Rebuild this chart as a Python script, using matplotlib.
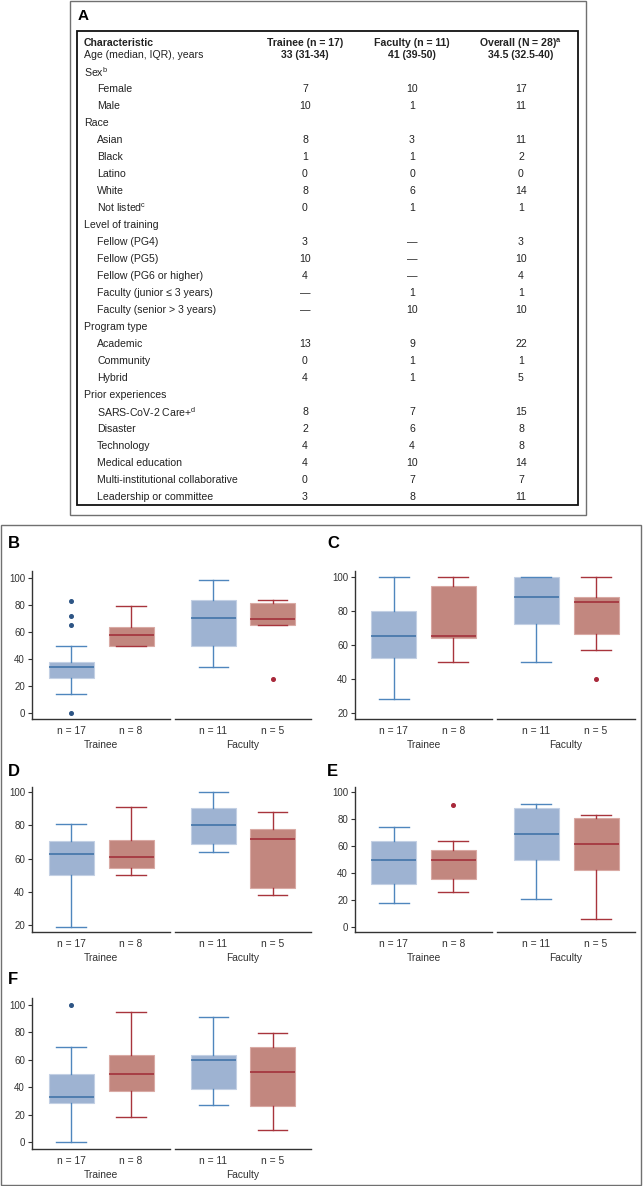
import matplotlib
matplotlib.use("Agg")
import matplotlib.pyplot as plt
from matplotlib.patches import Rectangle

plt.rcParams["font.family"] = ["Liberation Sans", "DejaVu Sans"]
plt.rcParams["mathtext.default"] = "regular"

# ---- table (panel A) ----
col_headers = ["Trainee (n = 17)", "Faculty (n = 11)", "Overall (N = 28)$^a$"]
age_values = ["33 (31-34)", "41 (39-50)", "34.5 (32.5-40)"]

row_labels = [
    "Sex$^b$", "Female", "Male",
    "Race", "Asian", "Black", "Latino", "White", "Not listed$^c$",
    "Level of training", "Fellow (PG4)", "Fellow (PG5)", "Fellow (PG6 or higher)",
    "Faculty (junior \u2264 3 years)", "Faculty (senior > 3 years)",
    "Program type", "Academic", "Community", "Hybrid",
    "Prior experiences", "SARS-CoV-2 Care+$^d$", "Disaster", "Technology",
    "Medical education", "Multi-institutional collaborative", "Leadership or committee",
]
D = "\u2014"
trainee_n = [None, 7, 10, None, 8, 1, 0, 8, 0, None, 3, 10, 4, D, D,
             None, 13, 0, 4, None, 8, 2, 4, 4, 0, 3]
faculty_n = [None, 10, 1, None, 3, 1, 0, 6, 1, None, D, D, D, 1, 10,
             None, 9, 1, 1, None, 7, 6, 4, 10, 7, 8]
overall_n = [None, 17, 11, None, 11, 2, 0, 14, 1, None, 3, 10, 4, 1, 10,
             None, 22, 1, 5, None, 15, 8, 8, 14, 7, 11]

# ---- box plots (panels B-F) ----
panel_names = ["B", "C", "D", "E", "F"]
group_names = ["Trainee", "Faculty"]
n_labels = [["n = 17", "n = 8"], ["n = 11", "n = 5"]]
# box order per panel: trainee blue, trainee red, faculty blue, faculty red
whislo = [[14, 50, 34, 65], [28, 50, 50, 57], [19, 50, 64, 38],
          [17.5, 26, 21, 6], [0, 18, 27, 9]]
q1 = [[26, 50, 50, 65], [52.5, 64, 72.5, 66.5], [50, 54, 69, 42],
      [32, 35.5, 50, 42.5], [28.5, 37, 39, 26]]
med = [[34, 58, 70.5, 69.5], [65, 65.5, 88, 85], [63, 61, 80, 72],
       [50, 50, 69, 61.5], [33, 50, 60, 51]]
q3 = [[38, 63.5, 83.5, 81.5], [80, 94.5, 100, 88.5], [70.5, 71, 90.5, 78],
      [64, 57, 88.5, 80.5], [50, 63.5, 63.5, 69.5]]
whishi = [[50, 79, 98.5, 84], [100, 100, 100, 100], [81, 91, 100, 88],
          [74, 63.5, 91, 83], [69, 95, 91, 79.5]]
fliers = [[[0, 65, 72, 83], [], [], [25]],
          [[], [], [], [40]],
          [[], [], [], []],
          [[], [90], [], []],
          [[100], [], [], []]]
y_ticks = [[0, 20, 40, 60, 80, 100], [20, 40, 60, 80, 100], [20, 40, 60, 80, 100],
           [0, 20, 40, 60, 80, 100], [0, 20, 40, 60, 80, 100]]
y_limits = [(-4.4, 105.2), (16.5, 103.5), (15.8, 103), (-3.7, 103.7), (-5.1, 105.1)]

W, H = 643, 1186
fig = plt.figure(figsize=(W / 100, H / 100), dpi=100)


def fx(x):
    return x / W


def fy(y):
    return 1 - y / H


def frame(x0, y0, x1, y1, color, lw):
    fig.add_artist(Rectangle((fx(x0), fy(y1)), fx(x1) - fx(x0), fy(y0) - fy(y1),
                             transform=fig.transFigure, fill=False,
                             edgecolor=color, linewidth=lw))


def axes_px(x0, y0, x1, y1):
    return fig.add_axes([fx(x0), fy(y1), fx(x1) - fx(x0), fy(y0) - fy(y1)])


# ---- panel A ----
frame(70, 1, 586, 515, "#707070", 1.0)
frame(77, 31, 578, 505, "#111111", 1.3)
fig.text(fx(78), fy(16), "A", fontsize=11, fontweight="bold", ha="left", va="center")

txt = "#222222"
fs = 7.6
col_x = [305, 412, 521]
fig.text(fx(84), fy(43.5), "Characteristic", fontsize=fs, fontweight="bold",
         color=txt, ha="left", va="center")
fig.text(fx(84), fy(55.5), "Age (median, IQR), years", fontsize=fs,
         color=txt, ha="left", va="center")
for cx, head, age in zip(col_x, col_headers, age_values):
    fig.text(fx(cx), fy(43.5), head, fontsize=fs, fontweight="bold",
             color=txt, ha="center", va="center")
    fig.text(fx(cx), fy(55.5), age, fontsize=fs, fontweight="bold",
             color=txt, ha="center", va="center")

for i, label in enumerate(row_labels):
    y = 72 + i * 17.0
    is_group = trainee_n[i] is None
    fig.text(fx(84 if is_group else 97), fy(y), label, fontsize=fs,
             color=txt, ha="left", va="center")
    if not is_group:
        for cx, v in zip(col_x, [trainee_n[i], faculty_n[i], overall_n[i]]):
            fig.text(fx(cx), fy(y), str(v), fontsize=fs, color=txt,
                     ha="center", va="center")

# ---- panels B-F ----
frame(1, 525, 641, 1185, "#707070", 1.0)

fill_cols = ["#9eb3d2", "#c2877f"]
edge_cols = ["#c3d0e4", "#d9aaa4"]
line_cols = ["#4f86bd", "#a8343c"]
med_cols = ["#3a6fa5", "#a02a35"]
flier_cols = ["#2d5585", "#a8283a"]

col_pos = [(32, 170, 175, 311), (355, 492, 497, 635)]
row_pos = [(571, 719), (787, 932), (998, 1149)]
label_pos = [(8, 543), (327, 543), (8, 772), (327, 772), (8, 979)]

for p, name in enumerate(panel_names):
    c = p % 2
    r = p // 2
    xa, xb, xc, xd = col_pos[c]
    ya, yb = row_pos[r]
    fig.text(fx(label_pos[p][0]), fy(label_pos[p][1]), name, fontsize=12,
             fontweight="bold", ha="left", va="center")
    for g, (x0, x1) in enumerate([(xa, xb), (xc, xd)]):
        ax = axes_px(x0, ya, x1, yb)
        stats = []
        for k in range(2):
            j = g * 2 + k
            stats.append(dict(whislo=whislo[p][j], q1=q1[p][j], med=med[p][j],
                              q3=q3[p][j], whishi=whishi[p][j], fliers=fliers[p][j]))
        art = ax.bxp(stats, positions=[0, 1], widths=0.75, capwidths=0.5,
                     patch_artist=True, showfliers=True)
        for k in range(2):
            art["boxes"][k].set_facecolor(fill_cols[k])
            art["boxes"][k].set_edgecolor(edge_cols[k])
            art["boxes"][k].set_linewidth(0.8)
            art["medians"][k].set_color(med_cols[k])
            art["medians"][k].set_linewidth(1.1)
            for w in art["whiskers"][2 * k:2 * k + 2] + art["caps"][2 * k:2 * k + 2]:
                w.set_color(line_cols[k])
                w.set_linewidth(1.0)
            fl = art["fliers"][k]
            fl.set_marker("o")
            fl.set_markersize(2.6)
            fl.set_markerfacecolor(flier_cols[k])
            fl.set_markeredgecolor(flier_cols[k])
        ax.set_xlim(-0.65, 1.65)
        ax.set_ylim(*y_limits[p])
        ax.set_xticks([0, 1])
        ax.set_xticklabels(n_labels[g])
        ax.set_xlabel(group_names[g], fontsize=7.4, color="#333333", labelpad=3)
        ax.tick_params(axis="x", length=0, labelsize=7.4, labelcolor="#333333", pad=5)
        for s in ["top", "right"]:
            ax.spines[s].set_visible(False)
        ax.spines["bottom"].set_color("#333333")
        ax.spines["bottom"].set_linewidth(1.0)
        ax.patch.set_alpha(0)
        if g == 0:
            ax.set_yticks(y_ticks[p])
            ax.tick_params(axis="y", length=3, width=0.8, labelsize=7,
                           labelcolor="#333333", color="#333333", pad=2)
            ax.spines["left"].set_color("#333333")
            ax.spines["left"].set_linewidth(1.0)
        else:
            ax.spines["left"].set_visible(False)
            ax.set_yticks([])

fig.savefig("out.png", dpi=100)
